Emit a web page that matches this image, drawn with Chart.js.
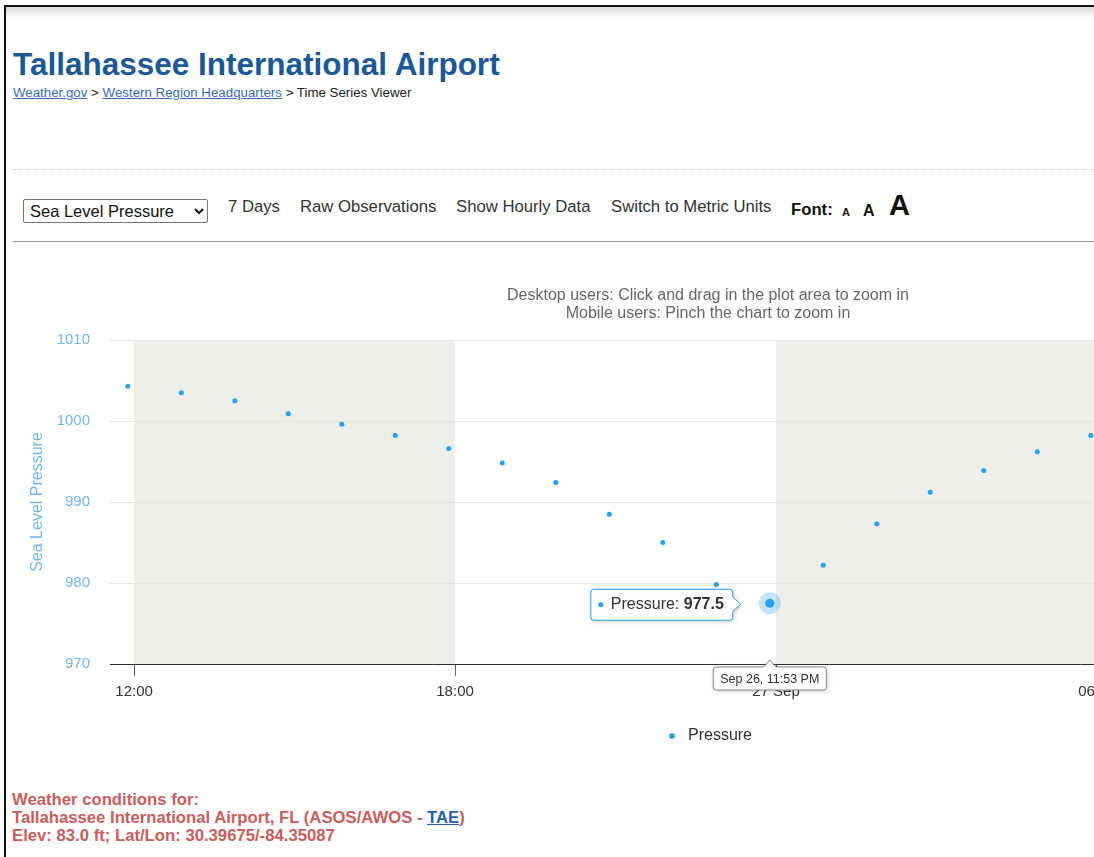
<!DOCTYPE html>
<html>
<head>
<meta charset="utf-8">
<title>Tallahassee International Airport</title>
<script src="https://cdn.jsdelivr.net/npm/chart.js@4.4.0/dist/chart.umd.min.js"></script>
<style>
  html, body { margin: 0; padding: 0; width: 1094px; height: 857px; overflow: hidden; background: #fff;
    font-family: Arial, "Liberation Sans", sans-serif; }
  .abs { position: absolute; white-space: nowrap; }
  #frameTop { position: absolute; left: 4px; top: 5px; width: 1090px; height: 2px; background: #111; }
  #frameLeft { position: absolute; left: 4px; top: 5px; width: 2px; height: 852px; background: #111; }
  #topShade { position: absolute; left: 6px; top: 7px; width: 1088px; height: 11px;
    background: linear-gradient(#dadada, #ffffff); }
  #title { left: 13px; top: 49px; font-size: 31.5px; line-height: 31.5px; font-weight: bold; color: #1b5996; }
  #crumbs { left: 13px; top: 86px; font-size: 13.3px; line-height: 13.3px; color: #222; }
  #crumbs a { color: #3b6cc0; text-decoration: underline; }
  #hr1 { position: absolute; left: 13px; top: 169px; width: 1081px; border-top: 1px dotted #b9cde0; }
  #hr2 { position: absolute; left: 13px; top: 241px; width: 1081px; height: 1px; background: #9a9a9a; }
  #picker { position: absolute; left: 23px; top: 199px; width: 185px; height: 24px; font-size: 16.5px;
    font-family: Arial, "Liberation Sans", sans-serif; color: #111; border: 1px solid #767676;
    border-radius: 2px; background: #fff; padding: 0 2px; }
  .tool { top: 199px; font-size: 16.7px; line-height: 16.7px; color: #333; }
  .fontA { font-weight: bold; color: #111; }
  #chartBox { position: absolute; left: 13px; top: 280px; width: 1400px; height: 474px; }
  #footer { left: 12px; top: 791px; font-size: 16.7px; line-height: 18px; font-weight: bold; color: #cd5c5c; }
  #footer a { color: #2a5db0; text-decoration: underline; }
</style>
</head>
<body>
<div id="frameTop"></div>
<div id="frameLeft"></div>
<div id="topShade"></div>

<div id="title" class="abs">Tallahassee International Airport</div>
<div id="crumbs" class="abs"><a>Weather.gov</a> &gt; <a>Western Region Headquarters</a> &gt; Time Series Viewer</div>
<div id="hr1"></div>

<select id="picker"><option>Sea Level Pressure</option></select>
<div class="abs tool" style="left:228px">7 Days</div>
<div class="abs tool" style="left:300px">Raw Observations</div>
<div class="abs tool" style="left:456px">Show Hourly Data</div>
<div class="abs tool" style="left:611px">Switch to Metric Units</div>
<div class="abs tool fontA" style="left:791px;top:202px">Font:</div>
<div class="abs fontA" style="left:842px;top:207px;font-size:11px;line-height:11px">A</div>
<div class="abs fontA" style="left:863px;top:203px;font-size:16px;line-height:16px">A</div>
<div class="abs fontA" style="left:889px;top:191px;font-size:29px;line-height:29px">A</div>
<div id="hr2"></div>

<div id="chartBox"><canvas id="pressureChart" width="1400" height="474"></canvas></div>

<div id="footer" class="abs">Weather conditions for:<br>Tallahassee International Airport, FL (ASOS/AWOS - <a>TAE</a>)<br>Elev: 83.0 ft; Lat/Lon: 30.39675/-84.35087</div>

<script>
const obsTimes = [
    'Sep 26 11:53', 'Sep 26 12:53', 'Sep 26 13:53', 'Sep 26 14:53', 'Sep 26 15:53',
    'Sep 26 16:53', 'Sep 26 17:53', 'Sep 26 18:53', 'Sep 26 19:53', 'Sep 26 20:53',
    'Sep 26 21:53', 'Sep 26 22:53', 'Sep 26 23:53', 'Sep 27 00:53', 'Sep 27 01:53',
    'Sep 27 02:53', 'Sep 27 03:53', 'Sep 27 04:53', 'Sep 27 05:53'
];
const pressure = [
    1004.3, 1003.5, 1002.5, 1000.9, 999.6,
    998.2, 996.6, 994.8, 992.4, 988.5,
    985.0, 979.8, 977.5, 982.2, 987.3,
    991.2, 993.9, 996.2, 998.2
];

// x axis: hours since Sep 26 00:00
const xTickHours = [12, 18, 24, 30];
const xTickLabels = ['12:00', '18:00', '27 Sep', '06:00'];
const shadeBands = [[12, 18], [24, 30]];
const yTicks = [970, 980, 990, 1000, 1010];
const hoverIndex = 12;

const seriesColor = '#24a0f2';
const axisBlue = '#72b7f2';
const chartFont = 'Arial, "Liberation Sans", sans-serif';

function toHours(s) {
    let parts = s.split(' ');
    let hm = parts[2].split(':');
    return (parseInt(parts[1]) - 26) * 24 + parseInt(hm[0]) + parseInt(hm[1]) / 60;
}

function niceTime(s) {
    let parts = s.split(' ');
    let hm = parts[2].split(':');
    let h = parseInt(hm[0]);
    let ampm = h >= 12 ? 'PM' : 'AM';
    let h12 = h % 12 === 0 ? 12 : h % 12;
    return parts[0] + ' ' + parts[1] + ', ' + h12 + ':' + hm[1] + ' ' + ampm;
}

Chart.defaults.font.family = chartFont;

// grey alternating bands + halo on the hovered point
const bandsPlugin = {
    id: 'bands',
    beforeDraw(chart) {
        let ctx = chart.ctx, area = chart.chartArea, xs = chart.scales.x;
        ctx.save();
        ctx.fillStyle = '#eeeeea';
        shadeBands.forEach(b => {
            let l = Math.max(xs.getPixelForValue(b[0]), area.left);
            let r = Math.min(xs.getPixelForValue(b[1]), area.right);
            if (r > l) ctx.fillRect(l, area.top, r - l, area.bottom - area.top);
        });
        ctx.restore();
    },
    afterDatasetsDraw(chart) {
        let pt = chart.getDatasetMeta(0).data[hoverIndex];
        let ctx = chart.ctx;
        ctx.save();
        ctx.fillStyle = 'rgba(36,160,242,0.28)';
        ctx.beginPath();
        ctx.arc(pt.x, pt.y, 11, 0, Math.PI * 2);
        ctx.fill();
        ctx.fillStyle = seriesColor;
        ctx.beginPath();
        ctx.arc(pt.x, pt.y, 4.5, 0, Math.PI * 2);
        ctx.fill();
        ctx.restore();
    }
};

// highcharts-like split tooltip for the hovered point
const tipPlugin = {
    id: 'tip',
    afterDraw(chart) {
        let ctx = chart.ctx;
        let pt = chart.getDatasetMeta(0).data[hoverIndex];
        let x = pt.x, y = pt.y;

        ctx.save();
        ctx.font = '16px ' + chartFont;
        let label = chart.data.datasets[0].label + ': ';
        let lw = ctx.measureText(label).width;
        ctx.font = 'bold 16px ' + chartFont;
        let val = pressure[hoverIndex].toFixed(1);
        let vw = ctx.measureText(val).width;

        let boxR = x - 37;
        let boxL = boxR - (8 + 12 + lw + vw + 9);
        let boxT = y - 14, boxB = y + 17, r = 3;
        ctx.beginPath();
        ctx.moveTo(boxL + r, boxT);
        ctx.lineTo(boxR - r, boxT);
        ctx.arcTo(boxR, boxT, boxR, boxT + r, r);
        ctx.lineTo(boxR, y - 6);
        ctx.lineTo(x - 29, y + 1);
        ctx.lineTo(boxR, y + 8);
        ctx.lineTo(boxR, boxB - r);
        ctx.arcTo(boxR, boxB, boxR - r, boxB, r);
        ctx.lineTo(boxL + r, boxB);
        ctx.arcTo(boxL, boxB, boxL, boxB - r, r);
        ctx.lineTo(boxL, boxT + r);
        ctx.arcTo(boxL, boxT, boxL + r, boxT, r);
        ctx.closePath();
        ctx.shadowColor = 'rgba(0,0,0,0.22)';
        ctx.shadowBlur = 5;
        ctx.shadowOffsetX = 1;
        ctx.shadowOffsetY = 1;
        ctx.fillStyle = 'rgba(255,255,255,0.96)';
        ctx.fill();
        ctx.shadowColor = 'transparent';
        ctx.strokeStyle = seriesColor;
        ctx.lineWidth = 1;
        ctx.stroke();

        let ty = (boxT + boxB) / 2;
        ctx.fillStyle = seriesColor;
        ctx.beginPath();
        ctx.arc(boxL + 10, ty, 2.5, 0, Math.PI * 2);
        ctx.fill();
        ctx.textBaseline = 'middle';
        ctx.fillStyle = '#333';
        ctx.font = '16px ' + chartFont;
        ctx.fillText(label, boxL + 20, ty);
        ctx.font = 'bold 16px ' + chartFont;
        ctx.fillText(val, boxL + 20 + lw, ty);

        // time label under the x axis
        let when = niceTime(obsTimes[hoverIndex]);
        ctx.font = '12.5px ' + chartFont;
        let tw = ctx.measureText(when).width;
        let bl = x - tw / 2 - 7, br = x + tw / 2 + 7;
        let bt = chart.chartArea.bottom + 3, bb = bt + 23;
        ctx.beginPath();
        ctx.moveTo(bl + r, bt);
        ctx.lineTo(x - 6, bt);
        ctx.lineTo(x, bt - 7);
        ctx.lineTo(x + 6, bt);
        ctx.lineTo(br - r, bt);
        ctx.arcTo(br, bt, br, bt + r, r);
        ctx.lineTo(br, bb - r);
        ctx.arcTo(br, bb, br - r, bb, r);
        ctx.lineTo(bl + r, bb);
        ctx.arcTo(bl, bb, bl, bb - r, r);
        ctx.lineTo(bl, bt + r);
        ctx.arcTo(bl, bt, bl + r, bt, r);
        ctx.closePath();
        ctx.shadowColor = 'rgba(0,0,0,0.22)';
        ctx.shadowBlur = 5;
        ctx.shadowOffsetX = 1;
        ctx.shadowOffsetY = 1;
        ctx.fillStyle = '#fff';
        ctx.fill();
        ctx.shadowColor = 'transparent';
        ctx.strokeStyle = '#8a8a8a';
        ctx.stroke();
        ctx.fillStyle = '#333';
        ctx.textAlign = 'center';
        ctx.fillText(when, x, (bt + bb) / 2 + 1);
        ctx.restore();
    }
};

let points = obsTimes.map((t, i) => ({ x: toHours(t), y: pressure[i] }));

let pressureChart = new Chart(document.getElementById('pressureChart'), {
    type: 'scatter',
    data: {
        datasets: [{
            label: 'Pressure',
            data: points,
            pointRadius: 2.5,
            pointBackgroundColor: seriesColor,
            pointBorderWidth: 0,
            pointHoverRadius: 2.5,
            pointHoverBorderWidth: 0
        }]
    },
    options: {
        responsive: false,
        animation: false,
        events: [],
        layout: { padding: { left: 0, right: 10, top: 0, bottom: 0 } },
        scales: {
            x: {
                type: 'linear',
                min: 11.55,
                max: 35.72,
                afterBuildTicks: scale => {
                    scale.ticks = xTickHours.map(v => ({ value: v }));
                },
                ticks: {
                    autoSkip: false,
                    maxRotation: 0,
                    padding: 7,
                    color: '#333',
                    font: { size: 15 },
                    callback: v => xTickLabels[xTickHours.indexOf(v)]
                },
                grid: { drawOnChartArea: false, drawTicks: true, tickLength: 12, color: '#666' },
                border: { display: true, color: '#333', width: 1 }
            },
            y: {
                min: 970,
                max: 1010,
                afterBuildTicks: scale => {
                    scale.ticks = yTicks.map(v => ({ value: v }));
                },
                afterFit: scale => { scale.width = 97; },
                ticks: {
                    padding: 20,
                    color: axisBlue,
                    font: { size: 15 },
                    callback: v => String(v)
                },
                grid: { color: '#e6e6e6', drawTicks: false },
                border: { display: false },
                title: {
                    display: true,
                    text: 'Sea Level Pressure',
                    color: axisBlue,
                    font: { size: 16 },
                    padding: { top: 15, bottom: 0 }
                }
            }
        },
        plugins: {
            title: {
                display: true,
                text: 'Desktop users: Click and drag in the plot area to zoom in',
                color: '#666',
                font: { size: 16, weight: 'normal', lineHeight: 18 / 16 },
                padding: { top: 7, bottom: 0 }
            },
            subtitle: {
                display: true,
                text: 'Mobile users: Pinch the chart to zoom in',
                color: '#666',
                font: { size: 16, weight: 'normal', lineHeight: 18 / 16 },
                padding: { top: 0, bottom: 17 }
            },
            legend: {
                position: 'bottom',
                labels: {
                    usePointStyle: true,
                    pointStyle: 'circle',
                    boxHeight: 4,
                    color: '#333',
                    font: { size: 16 },
                    padding: 20
                }
            },
            tooltip: { enabled: false }
        }
    },
    plugins: [bandsPlugin, tipPlugin]
});
</script>
</body>
</html>
